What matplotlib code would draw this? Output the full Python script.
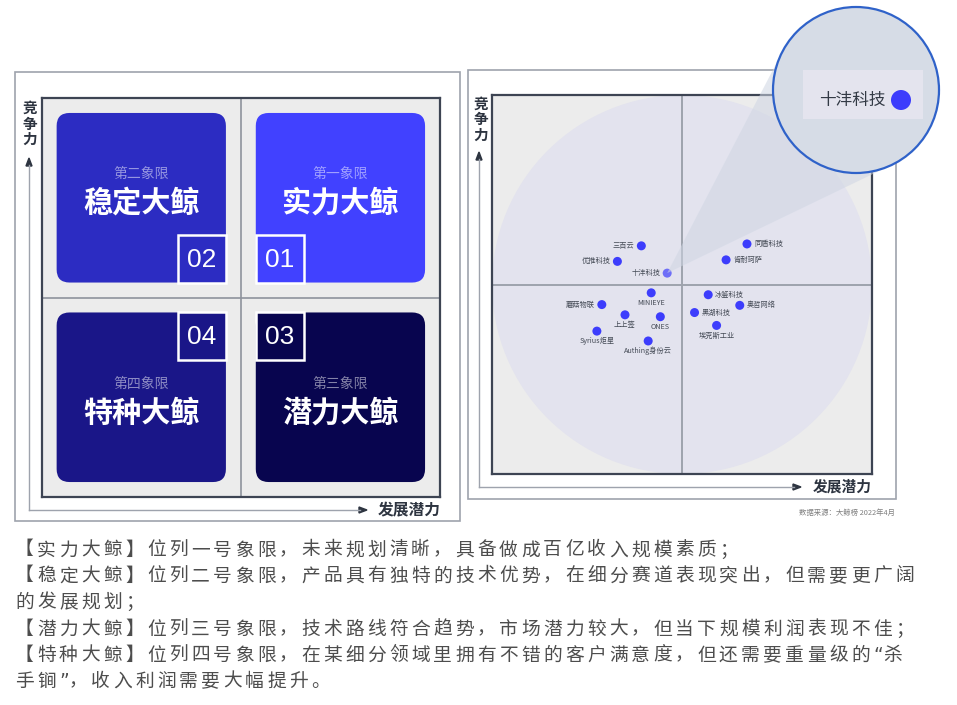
import math
import matplotlib
matplotlib.use('Agg')
import matplotlib.pyplot as plt
from matplotlib.patches import FancyBboxPatch, Rectangle, Circle, Polygon

plt.rcParams['font.family'] = ['Noto Sans CJK SC', 'DejaVu Sans']

# left panel: the four quadrants
quad_names = ['实力大鲸', '稳定大鲸', '潜力大鲸', '特种大鲸']
quad_subs = ['第一象限', '第二象限', '第三象限', '第四象限']
quad_nums = ['01', '02', '03', '04']
quad_cols = ['#4141ff', '#2c2cc2', '#08054f', '#1a1688']
quad_pos = [(1, 1), (0, 1), (1, 0), (0, 0)]  # (column, row)

# right panel: companies, x = 发展潜力, y = 竞争力 (0-10)
companies = ['三百云', '优推科技', '十沣科技', '同盾科技', '肯耐珂萨', 'MINIEYE',
             '蘑菇物联', '上上签', 'ONES', 'Syrius炬星', 'Authing身份云',
             '冰鉴科技', '奥哲网络', '黑湖科技', '埃克斯工业']
potential = [3.93, 3.30, 4.61, 6.71, 6.16, 4.19, 2.89, 3.50, 4.43, 2.76, 4.11,
             5.69, 6.52, 5.33, 5.91]
competitiveness = [6.02, 5.61, 5.30, 6.07, 5.65, 4.78, 4.47, 4.20, 4.15, 3.77, 3.51,
                   4.73, 4.45, 4.26, 3.92]
label_side = ['left', 'left', 'left', 'right', 'right', 'below', 'left', 'below',
              'below', 'below', 'below', 'right', 'right', 'right', 'below']
highlight = '十沣科技'

notes = [
    '【实力大鲸】位列一号象限，未来规划清晰，具备做成百亿收入规模素质；',
    '【稳定大鲸】位列二号象限，产品具有独特的技术优势，在细分赛道表现突出，但需要更广阔',
    '的发展规划；',
    '【潜力大鲸】位列三号象限，技术路线符合趋势，市场潜力较大，但当下规模利润表现不佳；',
    '【特种大鲸】位列四号象限，在某细分领域里拥有不错的客户满意度，但还需要重量级的“杀',
    '手锏”，收入利润需要大幅提升。',
]
source = '数据来源：大鲸榜 2022年4月'

W, H = 957, 705
fig = plt.figure(figsize=(W / 100, H / 100), dpi=100)

# background layer in pixel coordinates
bg = fig.add_axes([0, 0, 1, 1], zorder=0)
bg.set_xlim(0, W)
bg.set_ylim(H, 0)
bg.axis('off')

frame_col = '#9ea3ad'
dark = '#2d3440'
bg.add_patch(Rectangle((15, 72), 445, 449, fill=False, ec=frame_col, lw=1.2))
bg.add_patch(Rectangle((468, 70), 428, 429, fill=False, ec=frame_col, lw=1.2))


def arrows(x0, y0, top, right):
    bg.plot([x0, x0], [y0, top + 7], color=frame_col, lw=1)
    bg.plot([x0, right - 7], [y0, y0], color=frame_col, lw=1)
    bg.add_patch(Polygon([(x0, top), (x0 - 3, top + 8), (x0 + 3, top + 8)], color=dark))
    bg.add_patch(Polygon([(right, y0), (right - 8, y0 - 3), (right - 8, y0 + 3)], color=dark))


arrows(29, 510, 158, 367)
arrows(479, 487, 152, 801)

for i, ch in enumerate('竞争力'):
    bg.text(30, 108 + i * 15.5, ch, fontsize=10.5, fontweight='bold', color=dark,
            ha='center', va='center')
    bg.text(481, 104 + i * 15.2, ch, fontsize=10.5, fontweight='bold', color=dark,
            ha='center', va='center')
bg.text(409, 510, '发展潜力', fontsize=11.3, fontweight='bold', color=dark,
        ha='center', va='center')
bg.text(842, 487, '发展潜力', fontsize=10.6, fontweight='bold', color=dark,
        ha='center', va='center')
bg.text(895, 513, source, fontsize=5.3, color='#808080', ha='right', va='center')

# notes under the panels, one character at a time for the wide letter spacing;
# the curly quotes come from DejaVu so they stay narrow
for row, line in enumerate(notes):
    y = [550, 576, 602, 629, 655, 681][row]
    x = 15
    for ch in line:
        if ch in '“”':
            bg.text(x, y, ch, fontsize=13.5, color='#4d4d4d', family=['DejaVu Sans'],
                    ha='left', va='center')
            x += 10
        else:
            bg.text(x, y, ch, fontsize=13.5, color='#4d4d4d', ha='left', va='center')
            x += 22

# left panel
axl = fig.add_axes([41.7 / W, 1 - 497 / H, 398.3 / W, 399 / H], zorder=1)
axl.set_xlim(0, 2)
axl.set_ylim(0, 2)
axl.set_facecolor('#ececec')
axl.set_xticks([])
axl.set_yticks([])
for s in axl.spines.values():
    s.set_color('#3d4453')
    s.set_linewidth(1.6)
axl.axvline(1, color='#8e939c', lw=1.2)
axl.axhline(1, color='#8e939c', lw=1.2)

for name, sub, num, col, (c, r) in zip(quad_names, quad_subs, quad_nums, quad_cols, quad_pos):
    x0, y0 = c + 0.075, r + 0.075
    axl.add_patch(FancyBboxPatch((x0, y0), 0.85, 0.85,
                                 boxstyle='round,pad=0,rounding_size=0.065',
                                 fc=col, ec='none'))
    bx = x0 + 0.85 - 0.24 if c == 0 else x0
    by = y0 if r == 1 else y0 + 0.85 - 0.24
    axl.add_patch(Rectangle((bx, by), 0.24, 0.24, fc=col, ec='white', lw=1.8))
    axl.text(bx + 0.12, by + 0.115, num, fontsize=19, color='white',
             family=['Liberation Sans', 'DejaVu Sans'], ha='center', va='center')
    ty = r + (0.474 if r == 1 else 0.421)
    axl.text(c + 0.5, ty, name, fontsize=21, fontweight='bold', color='white',
             ha='center', va='center')
    axl.text(c + 0.5, ty + 0.147, sub, fontsize=10, color='white', alpha=0.5,
             ha='center', va='center')

# right panel
axr = fig.add_axes([492 / W, 1 - 474 / H, 380 / W, 379 / H], zorder=1)
axr.set_xlim(0, 10)
axr.set_ylim(0, 10)
axr.set_facecolor('#ececec')
axr.set_xticks([])
axr.set_yticks([])
for s in axr.spines.values():
    s.set_color('#3d4453')
    s.set_linewidth(1.6)
axr.add_patch(Circle((5, 5), 5, fc='#e3e3ee', ec='none', zorder=0))
axr.axvline(5, color='#9ea3ad', lw=1.4, zorder=1)
axr.axhline(5, color='#9ea3ad', lw=1.4, zorder=1)

for name, x, y, side in zip(companies, potential, competitiveness, label_side):
    axr.scatter(x, y, s=42, color='#3d3dfc', edgecolors='none', zorder=3,
                alpha=0.7 if name == highlight else 1)
    if side == 'left':
        off, ha, va = (-5, 0), 'right', 'center'
    elif side == 'right':
        off, ha, va = (5, 0), 'left', 'center'
    else:
        off, ha, va = (0, -7.3), 'center', 'center'
    axr.annotate(name, (x, y), xytext=off, textcoords='offset points',
                 fontsize=5.2, color='#444a55', ha=ha, va=va, zorder=4)

# magnifier on top
top = fig.add_axes([0, 0, 1, 1], zorder=5)
top.set_xlim(0, W)
top.set_ylim(H, 0)
top.axis('off')

i = companies.index(highlight)
disp = axr.transData.transform((potential[i], competitiveness[i]))
px, py = top.transData.inverted().transform(disp)
cx, cy, rad = 856, 90, 83
d = math.hypot(cx - px, cy - py)
th = math.atan2(cy - py, cx - px)
al = math.asin(rad / d)
L = math.sqrt(d * d - rad * rad)
t1 = (px + L * math.cos(th - al), py + L * math.sin(th - al))
t2 = (px + L * math.cos(th + al), py + L * math.sin(th + al))
top.add_patch(Polygon([(px, py), t1, (cx, cy), t2], fc='#cfd6e3', ec='none', alpha=0.55))
top.add_patch(Circle((cx, cy), rad, fc='#d6dce6', ec='#2f62c9', lw=1.6))
top.add_patch(Rectangle((803, 70), 120, 49, fc='#e4e4ee', ec='none'))
top.text(852, 100, highlight, fontsize=12, color='#333a45', ha='center', va='center')
top.add_patch(Circle((901, 100), 10, fc='#3d3dfc', ec='none'))

fig.savefig('out.png', dpi=100)
